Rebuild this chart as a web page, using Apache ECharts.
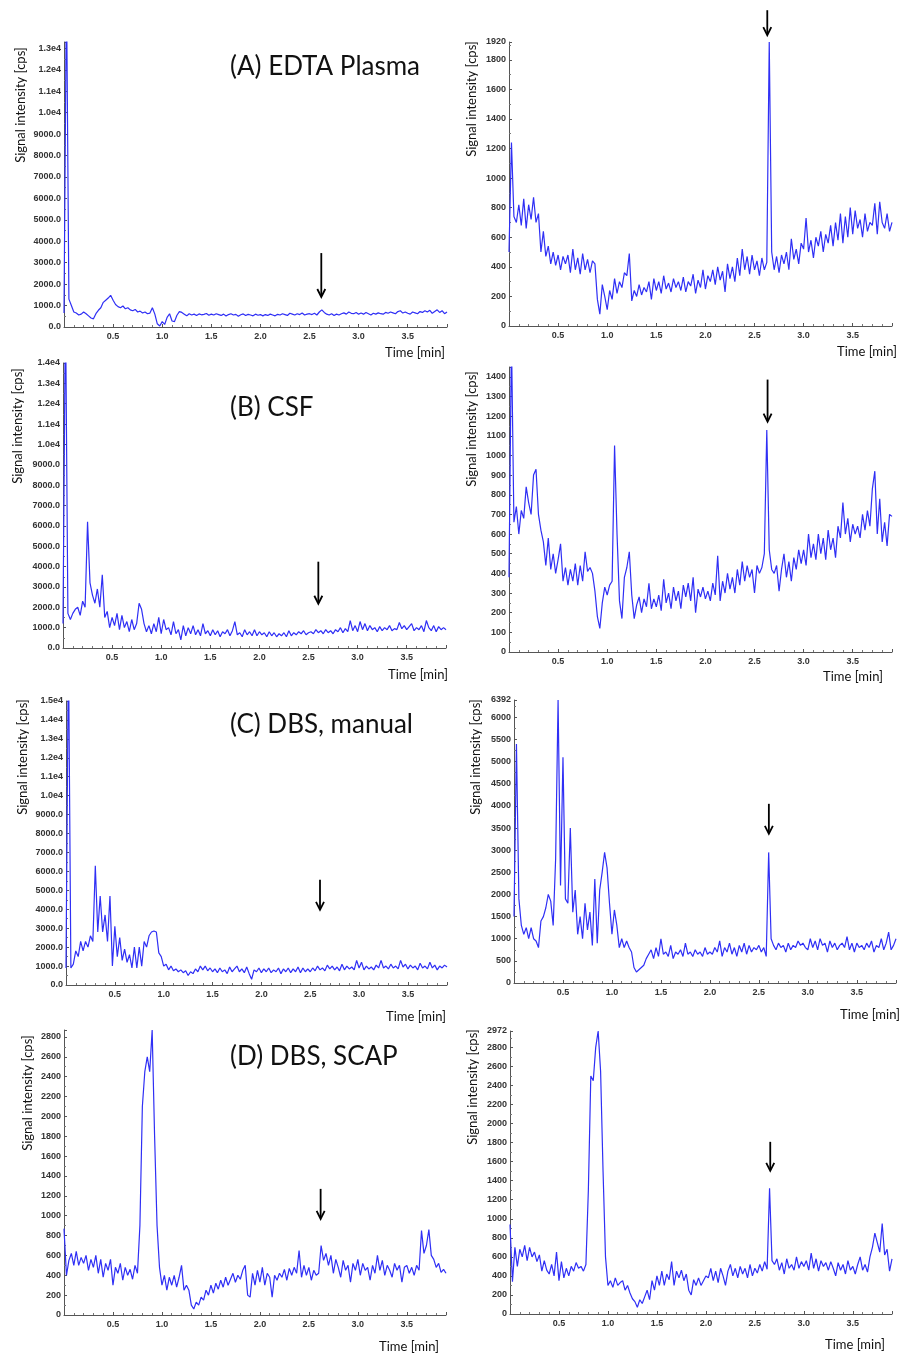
<!DOCTYPE html>
<html>
<head>
<meta charset="utf-8">
<script src="https://cdn.jsdelivr.net/npm/echarts@6/dist/echarts.min.js"></script>
<style>
  html, body { margin: 0; padding: 0; background: #fff; }
  #chart { width: 901px; height: 1357px; }
</style>
</head>
<body>
<div id="chart"></div>
<script>
// traces are sampled every 0.025 min, from 0.0 to 3.9 min (157 points)
const sampleStep = 0.025;

// (A) EDTA plasma
const plasmaLeft = [
  650, 16000, 1300, 1000, 700, 650, 560, 600, 700, 620, 520, 420, 380, 620, 780, 900, 1150, 1250, 1350, 1480,
  1250, 1050, 950, 900, 980, 850, 900, 800, 760, 820, 700, 740, 650, 700, 620, 650, 900, 600, 150, 50,
  250, 120, 450, 620, 280, 250, 550, 720, 680, 600, 520, 620, 560, 600, 540, 610, 570, 590, 630, 550,
  600, 560, 620, 580, 540, 600, 510, 580, 620, 560, 590, 500, 570, 610, 540, 590, 560, 520, 600, 550,
  580, 520, 580, 540, 600, 560, 520, 590, 560, 620, 580, 540, 640, 600, 560, 620, 580, 650, 560, 600,
  620, 580, 640, 560, 700, 800, 680, 600, 560, 620, 540, 600, 560, 620, 660, 600, 700, 640, 620, 680,
  600, 650, 600, 680, 620, 560, 640, 600, 660, 620, 600, 680, 640, 700, 660, 620, 720, 760, 650, 700,
  640, 600, 700, 660, 620, 720, 680, 760, 700, 780, 640, 720, 800, 680, 760, 620, 700
];
const plasmaRight = [
  500, 1240, 740, 700, 820, 680, 860, 660, 820, 720, 870, 700, 760, 500, 640, 470, 540, 420, 500, 410,
  480, 380, 470, 420, 480, 360, 520, 380, 460, 350, 490, 380, 450, 360, 440, 420, 180, 80, 280, 200,
  110, 240, 180, 320, 220, 300, 260, 360, 340, 490, 170, 240, 200, 280, 210, 260, 230, 300, 180, 320,
  240, 300, 220, 340, 250, 290, 230, 320, 260, 300, 240, 330, 230, 300, 270, 350, 220, 310, 260, 380,
  250, 340, 300, 380, 280, 400, 310, 370, 230, 420, 320, 400, 300, 460, 340, 520, 380, 470, 350, 480,
  380, 440, 340, 460, 380, 430, 1920, 500, 380, 470, 360, 480, 420, 500, 380, 590, 450, 520, 420, 560,
  520, 730, 500, 580, 460, 600, 540, 640, 500, 620, 560, 680, 540, 700, 580, 760, 560, 740, 600, 800,
  620, 780, 660, 720, 600, 760, 640, 700, 680, 830, 620, 840, 700, 660, 760, 640, 700
];

// (B) CSF
const csfLeft = [
  1200, 17000, 1700, 1400, 1700, 1900, 2000, 1600, 2300, 2000, 6200, 3200, 2600, 2200, 2900, 2000, 3600, 1500, 1800, 1000,
  1500, 1100, 1700, 900, 1600, 1000, 1300, 800, 1400, 900, 1200, 2200, 1900, 1200, 800, 1100, 700, 1200, 800, 1500,
  700, 1400, 900, 1000, 650, 1300, 700, 900, 400, 1100, 600, 1000, 700, 1100, 650, 900, 600, 1200, 700, 850,
  600, 900, 650, 850, 550, 800, 700, 900, 600, 850, 1300, 650, 750, 550, 900, 650, 800, 600, 900, 600,
  800, 650, 750, 550, 800, 600, 750, 550, 700, 600, 750, 550, 850, 600, 750, 650, 800, 700, 850, 650,
  750, 800, 700, 900, 750, 850, 700, 900, 750, 850, 700, 900, 800, 1000, 750, 950, 800, 1350, 850, 1100,
  800, 1300, 900, 1200, 850, 1100, 900, 1000, 800, 1050, 850, 1000, 900, 1100, 850, 950, 900, 1250, 950, 1100,
  900, 1050, 1200, 850, 1000, 900, 1100, 800, 1350, 1000, 850, 1100, 800, 1050, 900, 1000, 900
];
const csfRight = [
  380, 1600, 660, 740, 600, 720, 680, 840, 760, 700, 900, 930, 700, 620, 560, 440, 580, 420, 500, 400,
  470, 550, 360, 430, 340, 420, 360, 450, 340, 440, 360, 510, 410, 430, 400, 310, 180, 120, 250, 330,
  290, 340, 360, 1050, 600, 260, 170, 380, 430, 510, 290, 170, 240, 280, 200, 270, 230, 350, 220, 270,
  230, 290, 210, 370, 250, 300, 220, 330, 260, 310, 220, 340, 280, 350, 260, 380, 200, 320, 280, 330,
  270, 310, 260, 350, 290, 490, 260, 360, 300, 400, 320, 380, 300, 420, 340, 460, 360, 440, 380, 420,
  300, 440, 400, 430, 500, 1130, 520, 420, 400, 440, 310, 420, 500, 380, 460, 360, 480, 420, 520, 450,
  520, 440, 600, 480, 550, 470, 600, 500, 580, 470, 620, 520, 580, 480, 640, 580, 760, 600, 680, 560,
  650, 600, 640, 580, 700, 620, 720, 640, 830, 920, 600, 780, 560, 660, 540, 700, 690
];

// (C) DBS, manual
const dbsManualLeft = [
  900, 18000, 900, 1100, 1800, 1500, 2300, 1800, 2300, 2000, 2600, 2300, 6300, 2800, 4700, 2800, 3700, 2300, 4700, 1000,
  3100, 1500, 2500, 1300, 1900, 1200, 1600, 900, 2000, 900, 2000, 1000, 2300, 2000, 2600, 2800, 2850, 2800, 1700, 1500,
  1000, 1100, 800, 1000, 750, 850, 700, 800, 650, 750, 500, 700, 600, 850, 700, 1000, 800, 1000, 750, 900,
  700, 850, 650, 900, 700, 800, 600, 950, 700, 850, 1000, 700, 850, 650, 950, 600, 300, 800, 700, 900,
  650, 850, 700, 900, 650, 800, 700, 900, 600, 850, 700, 900, 650, 850, 700, 950, 650, 900, 700, 850,
  700, 900, 750, 1000, 800, 900, 750, 1050, 850, 1000, 800, 950, 750, 1100, 800, 1000, 850, 950, 800, 1300,
  900, 1200, 800, 1000, 850, 950, 800, 1050, 900, 1300, 900, 1000, 850, 1100, 900, 1000, 850, 1300, 950, 1100,
  850, 1050, 900, 1000, 800, 1150, 900, 1000, 850, 1200, 900, 1050, 800, 1000, 900, 1050, 950
];
const dbsManualRight = [
  1500, 5400, 1900, 1300, 1100, 1250, 1000, 1250, 1000, 950, 800, 1400, 1500, 1700, 2000, 1850, 1300, 2800, 6392, 2200,
  5100, 1900, 1800, 3500, 1600, 2100, 1100, 1500, 1000, 1800, 1200, 1600, 850, 2350, 900, 2100, 2500, 2950, 2600, 1800,
  1100, 1650, 1300, 800, 1000, 800, 950, 800, 700, 350, 250, 300, 350, 400, 550, 650, 750, 550, 800, 600,
  1000, 650, 700, 600, 850, 550, 700, 650, 750, 600, 900, 650, 700, 600, 750, 650, 700, 600, 800, 650,
  700, 650, 800, 700, 950, 600, 800, 700, 900, 650, 800, 600, 850, 700, 900, 650, 850, 700, 800, 750,
  850, 700, 800, 600, 2950, 1000, 850, 750, 900, 800, 850, 700, 900, 750, 850, 800, 950, 850, 900, 800,
  750, 1000, 800, 950, 750, 1000, 850, 900, 700, 950, 800, 900, 750, 850, 900, 800, 1050, 750, 900, 700,
  900, 800, 850, 750, 900, 800, 950, 700, 850, 800, 1000, 750, 900, 1150, 750, 850, 1000
];

// (D) DBS, SCAP
const dbsScapLeft = [
  870, 400, 550, 620, 500, 640, 500, 580, 520, 600, 450, 560, 480, 600, 420, 560, 380, 520, 450, 560,
  300, 480, 420, 520, 350, 480, 400, 460, 360, 500, 420, 900, 2100, 2450, 2600, 2450, 2870, 1800, 900, 480,
  300, 400, 250, 380, 300, 400, 280, 380, 500, 250, 300, 250, 100, 60, 130, 100, 180, 150, 250, 200,
  300, 220, 320, 260, 350, 280, 380, 300, 360, 420, 330, 400, 360, 450, 500, 200, 180, 420, 300, 450,
  330, 480, 300, 420, 380, 180, 400, 350, 420, 380, 460, 350, 470, 400, 480, 420, 650, 380, 500, 400,
  480, 350, 450, 400, 420, 700, 550, 620, 500, 600, 420, 560, 480, 380, 550, 450, 500, 330, 520, 450,
  560, 400, 520, 450, 480, 350, 500, 420, 600, 450, 550, 400, 500, 450, 380, 520, 450, 500, 330, 480,
  500, 420, 480, 400, 500, 450, 850, 620, 700, 860, 600, 560, 480, 520, 430, 460, 420
];
const dbsScapRight = [
  940, 340, 700, 500, 680, 600, 720, 560, 700, 600, 650, 550, 620, 450, 560, 460, 420, 520, 400, 650,
  350, 550, 380, 480, 400, 500, 450, 540, 480, 500, 450, 520, 1300, 2500, 2450, 2800, 2972, 2550, 1500, 600,
  300, 350, 280, 380, 300, 330, 350, 250, 300, 220, 160, 130, 70, 150, 110, 180, 250, 150, 350, 250,
  400, 300, 450, 300, 420, 360, 550, 300, 450, 380, 460, 350, 420, 250, 200, 360, 300, 380, 300, 350,
  400, 380, 480, 350, 450, 330, 480, 400, 300, 450, 520, 400, 480, 380, 500, 420, 480, 380, 520, 400,
  480, 430, 520, 450, 550, 470, 1320, 560, 520, 580, 460, 540, 420, 580, 480, 520, 460, 600, 480, 550,
  500, 560, 460, 640, 480, 580, 450, 560, 500, 540, 460, 550, 480, 400, 540, 460, 520, 420, 560, 460,
  500, 420, 520, 600, 460, 520, 440, 600, 700, 850, 750, 650, 950, 620, 680, 450, 580
];

const panelTitles = ['(A) EDTA Plasma', '(B) CSF', '(C) DBS, manual', '(D) DBS, SCAP'];
const traces = [plasmaLeft, plasmaRight, csfLeft, csfRight, dbsManualLeft, dbsManualRight, dbsScapLeft, dbsScapRight];

// axis ranges
const timeMax = 3.9;
const timeTickStep = 0.5;
const yMaxes = [13300, 1920, 14000, 1450, 15000, 6392, 2870, 2972];
const yTickSteps = [1000, 200, 1000, 100, 1000, 500, 200, 200];
const yShowTop = [false, true, true, false, true, true, false, true];
// panels whose tick labels carry one decimal (and e4 notation)
const yDecimal = [true, false, true, false, true, false, false, false];

// arrows marking the analyte peak: [time, from, to] in data units
const arrows = [
  [2.62, 3450, 1400], [2.63, 2135, 1966],
  [2.60, 4240, 2175], [2.633, 1386, 1172],
  [2.60, 5560, 3970], [2.602, 4047, 3370],
  [2.62, 1270, 968], [2.657, 1808, 1504]
];

// layout (px)
const grids = [
  { left: 64, top: 42, width: 383, height: 285 },
  { left: 509, top: 42, width: 383, height: 284 },
  { left: 63, top: 363, width: 383, height: 285 },
  { left: 509, top: 367, width: 383, height: 285 },
  { left: 66, top: 701, width: 381, height: 284 },
  { left: 514, top: 700, width: 382, height: 283 },
  { left: 64, top: 1030, width: 382, height: 285 },
  { left: 510, top: 1031, width: 382, height: 283 }
];
const yNamePos = [[21, 105], [472, 99], [18, 426], [472, 429], [23, 757], [476, 757], [28, 1093], [473, 1087]];
const timeNamePos = [[445, 353], [897, 352], [448, 675], [883, 677], [446, 1017], [900, 1015], [439, 1347], [885, 1345]];
const titlePos = [[230, 67], [230, 408], [230, 725], [230, 1057]];

const chart = echarts.init(document.getElementById('chart'));

const tickFont = {
  fontSize: 9,
  fontFamily: '"Liberation Sans Narrow", "Liberation Sans", Arial, sans-serif',
  fontWeight: 'bold',
  color: '#333'
};
const axisLine = { show: true, lineStyle: { color: '#555', width: 1 } };

function decimalLabel(v) {
  return v >= 10000 ? (v / 10000).toFixed(1) + 'e4' : v.toFixed(1);
}
function integerLabel(v) {
  return String(Math.round(v));
}

const option = {
  animation: false,
  grid: grids.map((g) => ({ ...g, containLabel: false })),
  xAxis: grids.map((g, i) => ({
    type: 'value',
    gridIndex: i,
    min: 0,
    max: timeMax,
    interval: timeTickStep,
    axisLine,
    axisTick: { show: true, inside: true, length: 3, lineStyle: { color: '#555' } },
    minorTick: { show: true, splitNumber: 5, length: 2, lineStyle: { color: '#777' } },
    splitLine: { show: false },
    axisLabel: {
      ...tickFont,
      margin: 5,
      showMinLabel: false,
      showMaxLabel: false,
      formatter: (v) => v.toFixed(1)
    }
  })),
  yAxis: grids.map((g, i) => ({
    type: 'value',
    gridIndex: i,
    min: 0,
    max: yMaxes[i],
    interval: yTickSteps[i],
    axisLine,
    axisTick: { show: true, inside: true, length: 3, lineStyle: { color: '#555' } },
    minorTick: { show: true, splitNumber: 2, length: 2, lineStyle: { color: '#777' } },
    splitLine: { show: false },
    axisLabel: {
      ...tickFont,
      margin: 3,
      showMaxLabel: yShowTop[i],
      formatter: yDecimal[i] ? decimalLabel : integerLabel
    }
  })),
  series: traces.map((vals, i) => ({
    type: 'line',
    xAxisIndex: i,
    yAxisIndex: i,
    data: vals.map((v, k) => [+(k * sampleStep).toFixed(3), v]),
    symbol: 'none',
    showSymbol: false,
    silent: true,
    clip: true,
    lineStyle: { color: '#2f2ff5', width: 1.2 }
  }))
};

chart.setOption(option);

const textFont = 'Lato, "Open Sans", sans-serif';
const graphics = [];

panelTitles.forEach((t, i) => {
  graphics.push({
    type: 'text',
    x: titlePos[i][0],
    y: titlePos[i][1],
    style: { text: t, fontSize: 26, fontFamily: textFont, fill: '#111', align: 'left', verticalAlign: 'middle' }
  });
});

grids.forEach((g, i) => {
  graphics.push({
    type: 'text',
    x: yNamePos[i][0],
    y: yNamePos[i][1],
    rotation: Math.PI / 2,
    style: { text: 'Signal intensity [cps]', fontSize: 13, fontFamily: textFont, fill: '#111', align: 'center', verticalAlign: 'middle' }
  });
  graphics.push({
    type: 'text',
    x: timeNamePos[i][0],
    y: timeNamePos[i][1],
    style: { text: 'Time [min]', fontSize: 13, fontFamily: textFont, fill: '#111', align: 'right', verticalAlign: 'middle' }
  });
});

// arrows are placed through the axes of their own panel
arrows.forEach(([t, from, to], i) => {
  const p1 = chart.convertToPixel({ gridIndex: i }, [t, from]);
  const p2 = chart.convertToPixel({ gridIndex: i }, [t, to]);
  graphics.push({
    type: 'line',
    shape: { x1: p1[0], y1: p1[1], x2: p2[0], y2: p2[1] - 1 },
    style: { stroke: '#000', lineWidth: 1.8 }
  });
  graphics.push({
    type: 'polyline',
    shape: { points: [[p2[0] - 4, p2[1] - 8], [p2[0], p2[1]], [p2[0] + 4, p2[1] - 8]] },
    style: { stroke: '#000', lineWidth: 1.8, fill: null }
  });
});

chart.setOption({ graphic: graphics });
</script>
</body>
</html>
